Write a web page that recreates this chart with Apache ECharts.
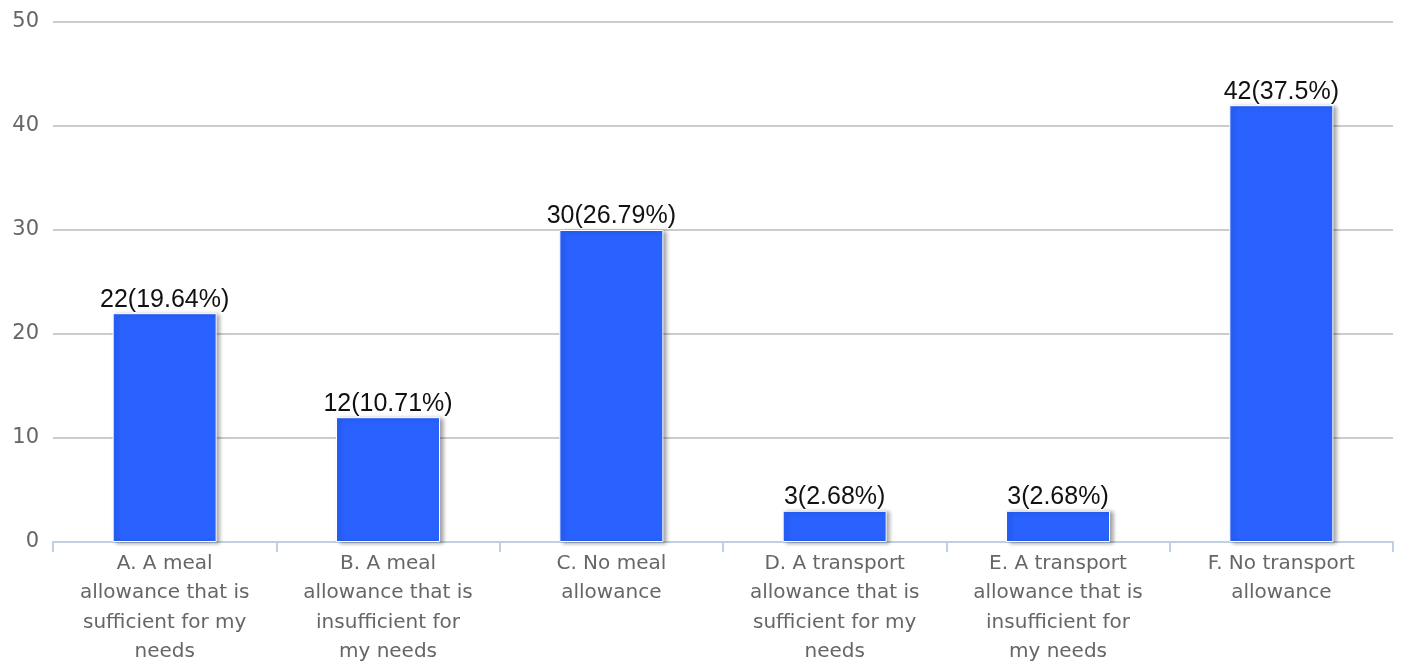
<!DOCTYPE html>
<html>
<head>
<meta charset="utf-8">
<style>
  html, body { margin: 0; padding: 0; background: #fff; }
  #chart { width: 1402px; height: 662px; }
</style>
<script src="https://cdn.jsdelivr.net/npm/echarts@6/dist/echarts.min.js"></script>
</head>
<body>
<div id="chart"></div>
<script>
// Answer categories (line breaks as shown under the axis)
const categories = [
  'A. A meal\nallowance that is\nsufficient for my\nneeds',
  'B. A meal\nallowance that is\ninsufficient for\nmy needs',
  'C. No meal\nallowance',
  'D. A transport\nallowance that is\nsufficient for my\nneeds',
  'E. A transport\nallowance that is\ninsufficient for\nmy needs',
  'F. No transport\nallowance'
];
// Number of respondents per answer
const counts = [22, 12, 30, 3, 3, 42];
// Share of respondents per answer (%)
const shares = ['19.64', '10.71', '26.79', '2.68', '2.68', '37.5'];
// Value axis ticks
const yTicks = [0, 10, 20, 30, 40, 50];

const chart = echarts.init(document.getElementById('chart'), null, { renderer: 'canvas' });

chart.setOption({
  animation: false,
  grid: { left: 53, right: 9, top: 22, bottom: 120, containLabel: false, outerBoundsMode: 'none' },
  xAxis: {
    type: 'category',
    data: categories,
    axisLine: { show: true, lineStyle: { color: '#c0d0e0', width: 2 } },
    axisTick: { show: true, length: 10, alignWithLabel: false, lineStyle: { color: '#c0d0e0', width: 2 } },
    axisLabel: {
      interval: 0,
      margin: 7,
      color: '#666',
      fontFamily: 'DejaVu Sans',
      fontSize: 20,
      lineHeight: 29.5,
      align: 'center'
    }
  },
  yAxis: {
    type: 'value',
    min: yTicks[0],
    max: yTicks[yTicks.length - 1],
    interval: 10,
    axisLine: { show: false },
    axisTick: { show: false },
    splitLine: { lineStyle: { color: '#cccccc', width: 2 } },
    axisLabel: {
      color: '#666',
      fontFamily: 'DejaVu Sans',
      fontSize: 21,
      margin: 14,
      formatter: v => String(v)
    }
  },
  series: [{
    type: 'bar',
    data: counts,
    barWidth: 104,
    itemStyle: {
      color: '#2962ff',
      borderColor: '#ffffff',
      borderWidth: 1,
      shadowColor: 'rgba(0,0,0,0.35)',
      shadowBlur: 4,
      shadowOffsetX: 3,
      shadowOffsetY: 1
    },
    label: {
      show: true,
      position: 'top',
      distance: 1,
      color: '#111',
      fontFamily: 'Liberation Sans',
      fontSize: 25,
      textBorderColor: 'rgba(255,255,255,0.9)',
      textBorderWidth: 2,
      formatter: p => counts[p.dataIndex] + '(' + shares[p.dataIndex] + '%)'
    }
  }]
});
</script>
</body>
</html>
